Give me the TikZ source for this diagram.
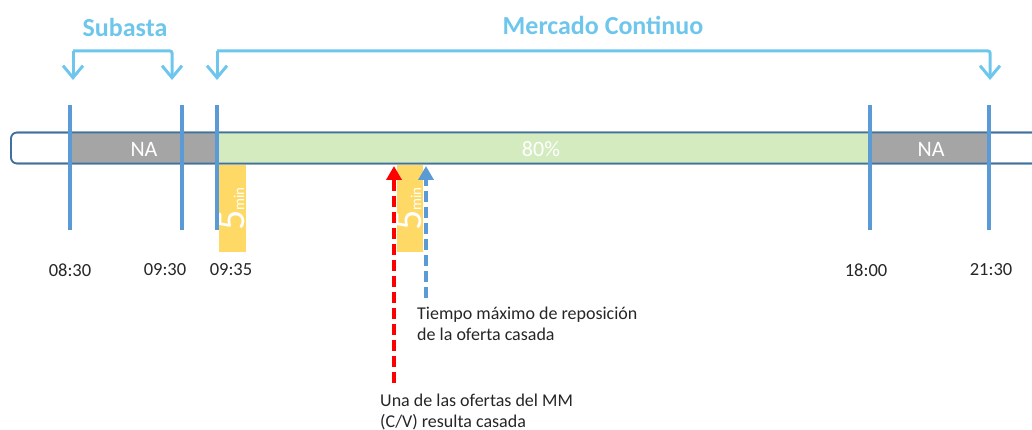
\documentclass[tikz,border=0pt]{standalone}
\usepackage{fontspec}
\setmainfont{Carlito}
\usetikzlibrary{arrows.meta}
\definecolor{tickblue}{HTML}{5B9BD5}
\definecolor{barline}{HTML}{41719C}
\definecolor{nagray}{HTML}{A5A5A5}
\definecolor{okgreen}{HTML}{D3EBBF}
\definecolor{fivey}{HTML}{FFD966}
\definecolor{brblue}{HTML}{6FC6EC}
\definecolor{txt}{HTML}{262626}
\begin{document}
\begin{tikzpicture}[x=1pt,y=-1pt,
  tickline/.style={tickblue,line width=4},
  timelbl/.style={text=txt,font=\fontsize{18.5}{20}\selectfont,inner sep=0},
  bartxt/.style={text=white,font=\fontsize{22}{24}\selectfont,inner sep=0},
  brace/.style={brblue,line width=3,rounded corners=2,-{Straight Barb[length=12pt,width=20pt,line width=3pt]}},
  title/.style={text=brblue,font=\bfseries\fontsize{26}{28}\selectfont,inner sep=0},
  fivebox/.style={fill=fivey,draw=none},
  fivetxt/.style={text=white,rotate=90,anchor=base west,inner sep=0},
  note/.style={text=txt,font=\fontsize{18}{21}\selectfont,align=left,inner sep=0},
  evarrow/.style={line width=4.5,dash pattern=on 11pt off 5pt,-{Triangle[width=15pt,length=14pt]}}
]
\useasboundingbox (0,0) rectangle (1032,430);
% bar background
\draw[barline,line width=1.6,rounded corners=6,fill=white] (11,132.5) rectangle (1060,163.5);
\fill[nagray] (70,133.3) rectangle (217,162.7);
\fill[okgreen] (217,133.3) rectangle (870,162.7);
\fill[nagray] (870,133.3) rectangle (989,162.7);
\draw[barline,line width=1.6,rounded corners=6] (11,132.5) rectangle (1060,163.5);
\node[bartxt] (na1) at (144,149) {NA};
\node[bartxt] (pct) at (541,149) {80\%};
\node[bartxt] (na2) at (931,149) {NA};
% 5 min boxes
\fill[fivebox] (219,165) rectangle (246,252);
\fill[fivebox] (397,165) rectangle (423,252);
\node[fivetxt] (five1) at (244,231) {{\fontsize{40}{40}\selectfont 5}{\fontsize{15}{15}\selectfont min}};
\node[fivetxt] (five2) at (421,231) {{\fontsize{40}{40}\selectfont 5}{\fontsize{15}{15}\selectfont min}};
% ticks
\foreach \n/\x in {a/70,b/182,c/217,d/870,e/989}{
  \coordinate (t\n top) at (\x,105);
  \coordinate (t\n bot) at (\x,230);
  \draw[tickline] (t\n top) -- (t\n bot);
}
% time labels
\node[timelbl] (l0830) at (70,270) {08:30};
\node[timelbl] (l0930) at (165,270) {09:30};
\node[timelbl] (l0935) at (231,270) {09:35};
\node[timelbl] (l1800) at (866,270) {18:00};
\node[timelbl] (l2130) at (991,270) {21:30};
% brackets
\coordinate (s1) at (73,80);
\coordinate (s2) at (172,80);
\coordinate (m1) at (217,80);
\coordinate (m2) at (990,80);
\draw[brace] (73,51) -- (s1);
\draw[brace] (73,51) -- (172,51) -- (s2);
\draw[brace] (217,51) -- (m1);
\draw[brace] (217,51) -- (990,51) -- (m2);
\node[title] (sub) at (125,27) {Subasta};
\node[title] (mc) at (603,25) {Mercado Continuo};
% event arrows
\coordinate (rbot) at (394,383);
\coordinate (rtop) at (394,166);
\coordinate (bbot) at (426,298);
\coordinate (btop) at (426,166);
\draw[evarrow,red] (rbot) -- (rtop);
\draw[evarrow,tickblue,line width=4] (bbot) -- (btop);
\node[note,anchor=north west] (tiempo) at (417,307) {Tiempo máximo de reposición\\de la oferta casada};
\node[note,anchor=north west] (una) at (380,394) {Una de las ofertas del MM\\(C/V) resulta casada};
\end{tikzpicture}
\end{document}
